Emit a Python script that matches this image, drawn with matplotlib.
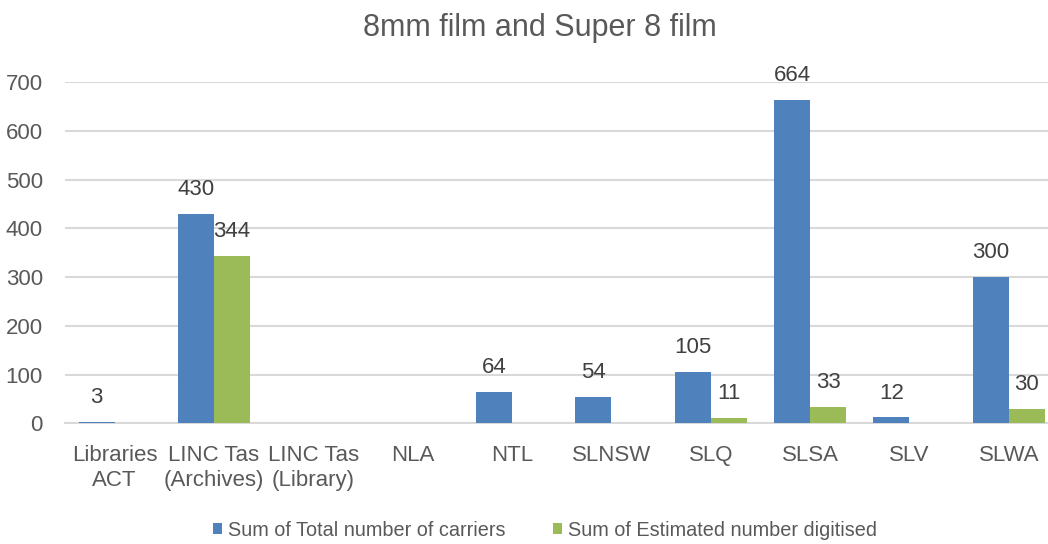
import numpy as np
import matplotlib
matplotlib.use("Agg")
import matplotlib.pyplot as plt

plt.rcParams['font.family'] = ['Liberation Sans', 'DejaVu Sans']

categories = ["Libraries\nACT", "LINC Tas\n(Archives)", "LINC Tas\n(Library)", "NLA", "NTL",
              "SLNSW", "SLQ", "SLSA", "SLV", "SLWA"]
total_carriers = [3, 430, None, None, 64, 54, 105, 664, 12, 300]
digitised = [None, 344, None, None, None, None, 11, 33, None, 30]

blue = "#4F81BD"
green = "#9BBB59"
txt = "#595959"

fig = plt.figure(figsize=(10.48, 5.44), dpi=100)
ax = fig.add_axes([0.062, 0.222, 0.948, 0.627])

x = np.arange(len(categories))
w = 0.362
tv = [v if v is not None else 0 for v in total_carriers]
dv = [v if v is not None else 0 for v in digitised]
b1 = ax.bar(x - w / 2, tv, w, color=blue, label="Sum of Total number of carriers", zorder=3)
b2 = ax.bar(x + w / 2, dv, w, color=green, label="Sum of Estimated number digitised", zorder=3)

for xs, vals in ((x - w / 2, total_carriers), (x + w / 2, digitised)):
    for xi, v in zip(xs, vals):
        if v is not None:
            ax.annotate(str(v), (xi, v), xytext=(0, 17.5), textcoords="offset points",
                        ha="center", va="center", fontsize=16, color="#404040")

ax.set_xlim(-0.5, len(categories) - 0.5)
ax.set_ylim(0, 700)
ax.set_yticks(range(0, 701, 100))
ax.yaxis.grid(True, color="#D9D9D9", linewidth=1.5, zorder=0)
ax.set_xticks(x)
ax.set_xticklabels(categories, fontsize=16, color=txt, linespacing=1.2)
ax.tick_params(axis="y", labelsize=16, labelcolor=txt, length=0, pad=16)
ax.tick_params(axis="x", length=0, pad=16)
for s in ["top", "right", "left"]:
    ax.spines[s].set_visible(False)
ax.spines["bottom"].set_color("#D9D9D9")
ax.spines["bottom"].set_linewidth(1.5)

fig.text(0.515, 1 - 28 / 544, "8mm film and Super 8 film", fontsize=22, color=txt,
         ha="center", va="center")

fig.legend(handles=[b1, b2], loc="center", bbox_to_anchor=(0.52, 1 - 530 / 544), ncol=2,
           frameon=False, fontsize=14.3, labelcolor=txt, handlelength=0.45, handleheight=0.45,
           handletextpad=0.3, columnspacing=2.4)

fig.savefig("out.png", dpi=100)
